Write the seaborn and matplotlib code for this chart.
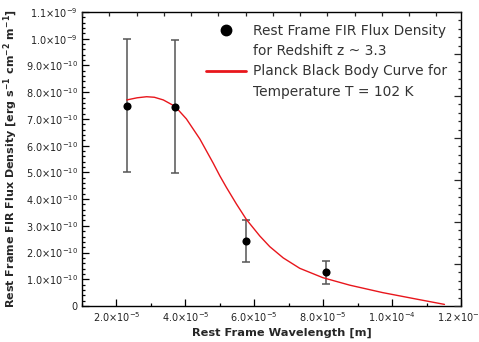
import matplotlib
matplotlib.use("Agg")
import matplotlib.pyplot as plt
from matplotlib.lines import Line2D
from matplotlib.ticker import FixedLocator, MultipleLocator, NullFormatter
import pandas as pd
import seaborn as sns

# measured rest frame FIR flux densities (z ~ 3.3)
wavelength = [2.30e-5, 3.70e-5, 5.77e-5, 8.09e-5]
flux = [7.50e-10, 7.46e-10, 2.43e-10, 1.26e-10]
flux_err = [2.50e-10, 2.50e-10, 0.80e-10, 0.42e-10]

# Planck curve for T = 102 K
curve_wl = [2.30e-5, 2.60e-5, 2.875e-5, 3.10e-5, 3.36e-5, 3.70e-5, 4.03e-5,
            4.42e-5, 4.81e-5, 5.00e-5, 5.19e-5, 5.48e-5, 5.77e-5, 6.16e-5,
            6.45e-5, 6.84e-5, 7.32e-5, 7.99e-5, 8.77e-5, 9.73e-5, 10.70e-5, 11.52e-5]
curve_flux = [7.71e-10, 7.79e-10, 7.83e-10, 7.81e-10, 7.71e-10, 7.47e-10, 7.00e-10,
              6.25e-10, 5.34e-10, 4.87e-10, 4.44e-10, 3.82e-10, 3.24e-10, 2.62e-10,
              2.22e-10, 1.80e-10, 1.41e-10, 1.06e-10, 0.78e-10, 0.50e-10, 0.26e-10, 0.06e-10]

# tick positions and labels
x_ticks = [2e-5, 4e-5, 6e-5, 8e-5, 1e-4, 1.2e-4]
x_labels = [r"$2.0{\times}10^{-5}$", r"$4.0{\times}10^{-5}$", r"$6.0{\times}10^{-5}$",
            r"$8.0{\times}10^{-5}$", r"$1.0{\times}10^{-4}$", r"$1.2{\times}10^{-4}$"]
y_ticks = [0, 1e-10, 2e-10, 3e-10, 4e-10, 5e-10, 6e-10, 7e-10, 8e-10, 9e-10, 1e-9, 1.1e-9]
y_labels = ["0"] + [r"$%.1f{\times}10^{-10}$" % v for v in range(1, 10)] + \
           [r"$1.0{\times}10^{-9}$", r"$1.1{\times}10^{-9}$"]

points = pd.DataFrame({"wavelength": wavelength, "flux": flux, "err": flux_err})
curve = pd.DataFrame({"wavelength": curve_wl, "flux": curve_flux})

sns.set_style("ticks")
plt.rcParams["font.family"] = ["DejaVu Sans"]
plt.rcParams["mathtext.fontset"] = "dejavusans"

red = "#e8161c"
fig = plt.figure(figsize=(4.79, 3.42), dpi=100)
ax = fig.add_axes([82 / 479, 1 - 306 / 342, 379 / 479, 294 / 342])

ax.errorbar(points["wavelength"], points["flux"], yerr=points["err"], fmt="none",
            ecolor="#555555", elinewidth=1.1, capsize=2.6, capthick=1.1, zorder=2)
sns.scatterplot(data=points, x="wavelength", y="flux", color="black", s=34,
                edgecolor="black", linewidth=0, zorder=4, ax=ax, legend=False)
sns.lineplot(data=curve, x="wavelength", y="flux", color=red, lw=1.0, sort=False,
             zorder=3, ax=ax, legend=False)

ax.set_xlim(1e-5, 1.2e-4)
ax.set_ylim(0, 1.1e-9)
ax.xaxis.set_major_locator(FixedLocator(x_ticks))
ax.set_xticklabels(x_labels)
ax.xaxis.set_minor_locator(MultipleLocator(1e-5))
ax.yaxis.set_major_locator(FixedLocator(y_ticks))
ax.set_yticklabels(y_labels)
ax.yaxis.set_minor_locator(MultipleLocator(0.2e-10))
ax.tick_params(which="both", direction="in", top=False, right=False, colors="black",
               labelcolor="#222222", labelsize=7, pad=3, width=0.9)
ax.tick_params(which="major", length=5)
ax.tick_params(which="minor", length=2.5)
for s in ax.spines.values():
    s.set_linewidth(1.0)
    s.set_color("black")

# frame ticks on the top and right edges use their own spacing
top = ax.twiny()
top.set_xlim(0, 13.9)
top.xaxis.set_major_locator(MultipleLocator(1))
top.xaxis.set_major_formatter(NullFormatter())
top.tick_params(direction="in", length=3, width=0.9)
right = ax.twinx()
right.set_ylim(0, 35)
right.yaxis.set_major_locator(MultipleLocator(5))
right.yaxis.set_minor_locator(MultipleLocator(1))
right.yaxis.set_major_formatter(NullFormatter())
right.tick_params(which="major", direction="in", length=5, width=0.9)
right.tick_params(which="minor", direction="in", length=2.5, width=0.9)
for a in (top, right):
    for s in a.spines.values():
        s.set_visible(False)

ax.set_xlabel("Rest Frame Wavelength [m]", fontsize=8.2, fontweight="bold")
ax.xaxis.set_label_coords(0.528, -0.074)
ax.set_ylabel(r"Rest Frame FIR Flux Density [erg s$^{\mathbf{-1}}$ cm$^{\mathbf{-2}}$ m$^{\mathbf{-1}}$]",
              fontsize=8.0, fontweight="bold", labelpad=4)

handles = [Line2D([], [], marker="o", color="black", linestyle="none", markersize=7.5),
           Line2D([], [], linestyle="none"),
           Line2D([], [], color=red, lw=2),
           Line2D([], [], linestyle="none")]
labels = ["Rest Frame FIR Flux Density", "for Redshift z ~ 3.3",
          "Planck Black Body Curve for", "Temperature T = 102 K"]
leg = ax.legend(handles, labels, loc="upper left", bbox_to_anchor=(206 / 479, 1 - 24 / 342),
                bbox_transform=fig.transFigure, frameon=False, fontsize=9.9,
                handlelength=2.9, handletextpad=0.55, labelspacing=0.45,
                borderpad=0, borderaxespad=0)
for t in leg.get_texts():
    t.set_color("#333333")

fig.savefig("out.png", dpi=100)
